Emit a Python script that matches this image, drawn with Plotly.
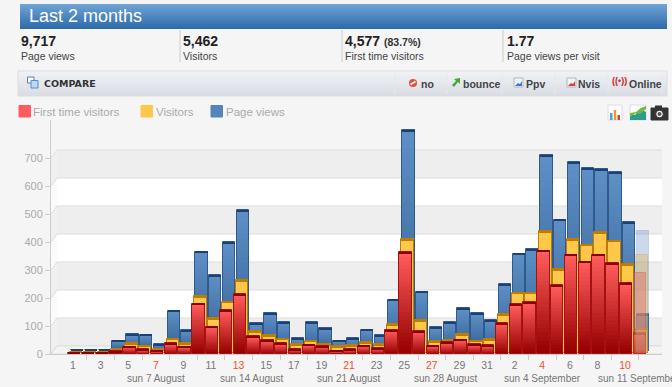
import plotly.graph_objects as go

W, H = 672, 387
day_labels = ["1","3","5","7","9","11","13","15","17","19","21","23","25","27","29","31","2","4","6","8","10"]
red_labels = {"7","13","21","27","4","10"}
week_labels = ["sun 7 August","sun 14 August","sun 21 August","sun 28 August","sun 4 September","sun 11 September"]
week_days = [7,14,21,28,35,42]
weekend_days = [6,7,13,14,20,21,27,28,34,35,41,42]
days = list(range(1,43))
first_time = [5,5,5,11,26,17,12,38,26,180,98,157,214,63,50,38,18,33,27,12,18,30,20,86,363,82,29,42,51,35,32,111,177,185,369,246,354,330,354,325,252,75]
visitors = [3,3,3,13,33,25,13,49,33,202,122,182,259,76,63,49,31,43,31,22,26,37,31,102,406,115,40,45,66,43,47,137,214,214,433,297,406,385,429,399,315,85]
page_views = [1,1,1,34,57,55,22,140,71,351,268,386,500,96,131,100,42,100,79,34,42,73,54,180,786,209,81,100,150,131,107,236,344,360,696,465,672,649,647,635,456,129]
ghost_day = [42]
ghost_first = [289]
ghost_visitors = [350]
ghost_views = [424]
y_ticks = [0,100,200,300,400,500,600,700]

PX_X = 13.8; PX_Y = 0.28
X0_PX = 73; Y0_PX = 354
L_PX, R_PX, T_PX = 51, 662, 120
x_range = [(L_PX-X0_PX)/PX_X+1, (R_PX-X0_PX)/PX_X+1]
y_range = [0, (Y0_PX-T_PX)/PX_Y]
BW = 0.9
FONT = "Liberation Sans"

def mix(a,b,t):
    return "rgb(%d,%d,%d)"%tuple(round(a[i]+(b[i]-a[i])*t) for i in range(3))

fig = go.Figure()
shapes=[]; ann=[]
def fx(p): return p/W
def fy(p): return 1-p/H
def rect(x0,y0,x1,y1,fill,line=None,lw=1,layer="above"):
    shapes.append(dict(type="rect",xref="paper",yref="paper",x0=fx(x0),x1=fx(x1),y0=fy(y0),y1=fy(y1),
        fillcolor=fill,line=dict(color=line or "rgba(0,0,0,0)",width=lw if line else 0),layer=layer))
def grad(x0,y0,x1,y1,c0,c1,layer="below"):
    n=int(y1-y0)
    for i in range(n):
        rect(x0,y0+i,x1,y0+i+1.3 if i<n-1 else y0+i+1,mix(c0,c1,i/max(n-1,1)),layer=layer)
def line(x0,y0,x1,y1,c,w=1,layer="above"):
    shapes.append(dict(type="line",xref="paper",yref="paper",x0=fx(x0),x1=fx(x1),y0=fy(y0),y1=fy(y1),line=dict(color=c,width=w),layer=layer))
def poly(pts,fill,line_c=None,layer="above",w=1):
    d="M"+" L".join("%.4f,%.4f"%(fx(a),fy(b)) for a,b in pts)+" Z"
    shapes.append(dict(type="path",xref="paper",yref="paper",path=d,fillcolor=fill,line=dict(color=line_c or "rgba(0,0,0,0)",width=w if line_c else 0),layer=layer))
def circle(cx,cy,r,fill,line_c=None,w=1):
    shapes.append(dict(type="circle",xref="paper",yref="paper",x0=fx(cx-r),x1=fx(cx+r),y0=fy(cy-r),y1=fy(cy+r),fillcolor=fill,line=dict(color=line_c or "rgba(0,0,0,0)",width=w if line_c else 0)))
def text(x,y,s,size,color,bold=False,anchor="left",font=FONT):
    ann.append(dict(xref="paper",yref="paper",x=fx(x),y=fy(y),text=("<b>%s</b>"%s if bold else s),showarrow=False,
        xanchor=anchor,yanchor="middle",font=dict(family=font,size=size,color=color),borderpad=0,borderwidth=0))

# header
grad(20,4,667,29,(110,163,214),(46,107,169))
text(29,16,"Last 2 months",18,"#ffffff")
# stats
stats=[(22,"9,717","Page views"),(184,"5,462","Visitors"),(346,"4,577","First time visitors"),(508,"1.77","Page views per visit")]
for x,a,b in stats:
    text(x-1,41,a,14,"#222222",True)
    text(x-1,56,b,10.5,"#444444")
text(384,42,"(83.7%)",10.5,"#333333",True)
for x in [180,342,503]:
    line(x,30,x,62,"#cccccc")
# toolbar
grad(18,71,667,96,(240,242,245),(217,220,228))
rect(18,71,667,96,"rgba(0,0,0,0)","#dddddd",1,"below")
text(44,84,"COMPARE",9.5,"#333333",True,font="DejaVu Sans")
rect(27.5,77,34,83,"#ffffff","#5b7fa8"); rect(31,80.5,38,88,"#bcd9f2","#4f8fca")
for x in [395,447,502,555,608,662]:
    line(x,73,x,94,"#e6e8ec")
circle(413,83,4,"#e2503a"); line(410.5,84.5,415.5,81.5,"#ffffff",1.5)
text(421,83.5,"no",10.5,"#444444",True)
poly([(452,85),(456,81),(454,79),(460,78),(460,84),(458,82),(454,87)],"#46a63c")
text(463,83.5,"bounce",10.5,"#444444",True)
rect(514,78,523,87,"#f2f4f8","#b0b8c4"); poly([(515,86),(518,83),(520,84),(522,81),(522,86)],"#3f79c8")
text(526,83.5,"Ppv",10.5,"#444444",True)
rect(567,78,576,87,"#f2f4f8","#b0b8c4"); poly([(568,86),(571,83),(573,84),(575,81),(575,86)],"#d2433a")
text(578,83.5,"Nvis",10.5,"#444444",True)
text(619,81.5,"((•))",9,"#cc2222",True,"center")
text(629,83.5,"Online",10.5,"#444444",True)
# legend
for x,c,lab,tx in [(19,"#ff5a60","First time visitors",33),(141,"#ffc84a","Visitors",156),(211,"#5585bb","Page views",226)]:
    rect(x,105.5,x+11.5,117,c,c,1)
    text(tx,112,lab,11.5,"#aaaaaa")
# chart icons
rect(608,105,622,120,"#ffffff","#d8dde4")
rect(610,113,612.5,120,"#5b9bd5"); rect(613.8,110,616.2,120,"#e89a2c"); rect(617.5,115,620,120,"#d2433a")
rect(630,105,646,120,"#ffffff","#d8dde4")
poly([(630,120),(630,113),(635,115),(640,109),(646,112),(646,120)],"#2e9b8e")
poly([(630,120),(630,117),(636,113),(640,114),(646,109),(646,106),(641,108),(636,112),(630,113)],"#6fbb3c")
rect(651,108,668,120,"#333333","#333333"); rect(655,105.5,662,109,"#333333")
circle(659.5,114,3.8,"#f5f5f5","#333333",1); circle(659.5,114,2,"#555555")

# 3D walls, on the data axes
dx = 6/PX_X; dy = 8/PX_Y
xl, xr = x_range[0], (667-X0_PX)/PX_X+1
for a,b in zip(y_ticks[:-1],y_ticks[1:]):
    fill = "#eeeeee" if a%200==0 else "#ffffff"
    shapes.append(dict(type="rect",xref="x",yref="y",x0=xl+dx,x1=xr,y0=a+dy,y1=b+dy,fillcolor=fill,line=dict(width=0),layer="below"))
    shapes.append(dict(type="path",xref="x",yref="y",path=f"M{xl},{a} L{xl+dx},{a+dy} L{xl+dx},{b+dy} L{xl},{b} Z",fillcolor=("#f0f0f0" if a%200==0 else "#fbfbfb"),line=dict(width=0),layer="below"))
for v in y_ticks:
    shapes.append(dict(type="path",xref="x",yref="y",path=f"M{xl},{v} L{xl+dx},{v+dy} L{xr},{v+dy}",line=dict(color="#dddddd",width=1),layer="below"))
shapes.append(dict(type="path",xref="x",yref="y",path=f"M{xl},0 L{xl+dx},{dy} L{xr},{dy} L{x_range[1]},0 Z",fillcolor="#f4f4f4",line=dict(color="#dddddd",width=1),layer="below"))

N = 24
def series(x, vals, base0, off, top, bottom, cap, edge, alpha=None):
    if alpha is None:
        for k in range(N):
            fig.add_trace(go.Bar(x=x,y=[v/N*1.1 for v in vals],base=[base0+v*k/N for v in vals],width=BW,offset=off,
                marker=dict(color=mix(bottom,top,k/(N-1)),line=dict(width=0)),hoverinfo="skip"))
        fig.add_trace(go.Bar(x=x,y=vals,base=base0,width=BW,offset=off,
            marker=dict(color="rgba(0,0,0,0)",line=dict(color=edge,width=1)),hoverinfo="skip"))
        fig.add_trace(go.Bar(x=x,y=[5]*len(x),base=[base0+v-4 for v in vals],width=BW,offset=off,
            marker=dict(color=cap,line=dict(width=0)),hoverinfo="skip"))
    else:
        fig.add_trace(go.Bar(x=x,y=vals,base=base0,width=BW,offset=off,
            marker=dict(color=mix(top,top,0).replace("rgb","rgba").replace(")",",%s)"%alpha),line=dict(color=edge,width=1)),hoverinfo="skip"))

BLUE=((93,143,196),(52,95,148),"#1c3f78","#2f5a90")
YEL=((255,200,74),(255,196,66),"#c07c00","#c07c00")
RED=((255,92,92),(150,0,0),"#8e0000","#a51010")
series(days,page_views,14,-2/PX_X,*BLUE)
series(days,visitors,5,-3/PX_X,*YEL)
series(days,first_time,0,-5/PX_X,*RED)
series(ghost_day,ghost_views,14,-2/PX_X,(90,130,190),(0,0,0),"","rgba(90,130,190,.25)",alpha=.3)
series(ghost_day,ghost_visitors,5,-3/PX_X,(225,190,110),(0,0,0),"","rgba(190,150,60,.3)",alpha=.45)
series(ghost_day,ghost_first,0,-5/PX_X,(225,110,100),(0,0,0),"","rgba(200,70,60,.3)",alpha=.45)

fig.add_trace(go.Scatter(x=weekend_days,y=[-4]*len(weekend_days),mode="markers",cliponaxis=False,
    marker=dict(symbol="line-ew",size=11,line=dict(color="#ff5a3c",width=2)),hoverinfo="skip"))

ticktext=[(f'<span style="color:#ff4a2a">{d}</span>' if d in red_labels else d) for d in day_labels]
tickvals=[d for d in days if d%2==1]
for d,lab in zip(week_days,week_labels):
    ann.append(dict(xref="x",yref="paper",x=d,y=fy(378),text=lab,showarrow=False,xanchor="center",yanchor="middle",
        font=dict(family=FONT,size=10,color="#777777")))

fig.update_layout(width=W,height=H,margin=dict(l=0,r=0,t=0,b=0,autoexpand=False),paper_bgcolor="#f5f5f5",plot_bgcolor="rgba(0,0,0,0)",
    barmode="overlay",bargap=0,showlegend=False,shapes=shapes,annotations=ann,
    xaxis=dict(domain=[L_PX/W,R_PX/W],range=x_range,tickmode="array",tickvals=tickvals,ticktext=ticktext,ticks="outside",ticklen=1,tickcolor="rgba(0,0,0,0)",
        tickfont=dict(family=FONT,size=10.5,color="#777777"),showgrid=False,zeroline=False,showline=True,linecolor="#cccccc",
        minor=dict(tickmode="array",tickvals=[d for d in days if d%2==0],ticks="outside",ticklen=5,tickcolor="#cccccc",showgrid=False)),
    yaxis=dict(domain=[1-Y0_PX/H,1-T_PX/H],range=y_range,tickmode="array",tickvals=y_ticks,ticks="outside",ticklen=5,tickcolor="#cccccc",
        tickfont=dict(family=FONT,size=11,color="#aaaaaa"),showgrid=False,zeroline=False,showline=True,linecolor="#cccccc"))
fig.write_html("out.html",config={"displayModeBar":False},post_script="document.body.style.margin='0';document.body.style.overflow='hidden';document.body.style.background='#f5f5f5';")
